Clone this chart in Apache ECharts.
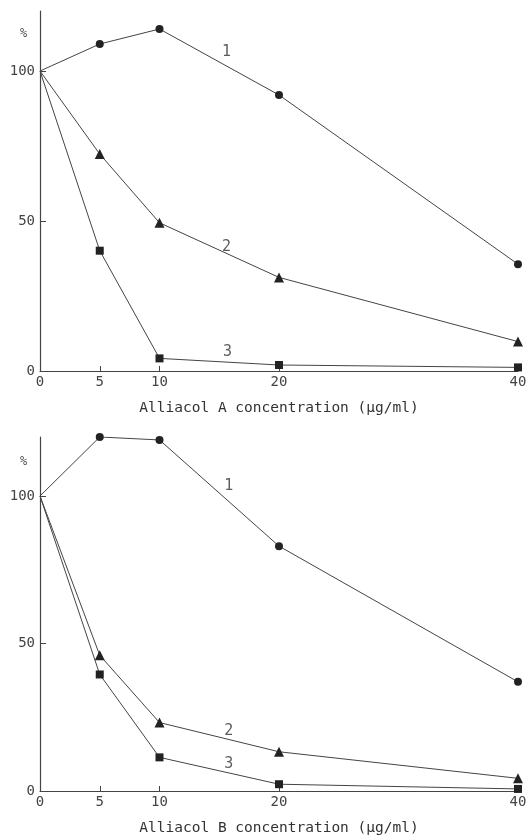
<!DOCTYPE html>
<html>
<head>
<meta charset="utf-8">
<script src="https://cdn.jsdelivr.net/npm/echarts@6/dist/echarts.min.js"></script>
<style>
  html, body { margin: 0; padding: 0; background: #fff; }
  #chart { width: 531px; height: 838px; }
</style>
</head>
<body>
<div id="chart"></div>
<script>
// concentrations (µg/ml)
const conc = [0, 5, 10, 20, 40];
const xTicks = [0, 5, 10, 20, 40];
const yLabels = [0, 50, 100];
const yTicks = [50, 100];

// Alliacol A, % of control
const a1 = [100, 109, 114, 92, 35.6];
const a2 = [100, 72.3, 49.4, 31.2, 9.8];
const a3 = [100, 40.1, 4.2, 2, 1.2];

// Alliacol B, % of control
const b1 = [100, 120, 119, 83, 37];
const b2 = [100, 46, 23.2, 13.3, 4.3];
const b3 = [100, 39.5, 11.4, 2.3, 0.7];

// curve numbers placed beside the lines  [x, y, label]
const aCurveLabels = [[15.6, 106.3, "1"], [15.6, 41.3, "2"], [15.7, 6.3, "3"]];
const bCurveLabels = [[15.8, 103.4, "1"], [15.8, 20.3, "2"], [15.8, 9.2, "3"]];

const xTitles = ["Alliacol A concentration (µg/ml)", "Alliacol B concentration (µg/ml)"];

const ink = "#222";
const lineInk = "#444";
const mono = "DejaVu Sans Mono";

function pairs(vals) {
  return conc.map(function (c, i) { return [c, vals[i]]; });
}

function xAxis(idx) {
  return {
    type: "value",
    gridIndex: idx,
    min: 0,
    max: 40,
    interval: 5,
    name: xTitles[idx],
    nameLocation: "middle",
    nameGap: 30,
    nameTextStyle: { fontFamily: mono, fontSize: 14.5, color: "#333" },
    axisLine: { lineStyle: { color: lineInk, width: 1.2 } },
    axisTick: { inside: true, length: 5, customValues: [5, 10, 20, 40], lineStyle: { color: lineInk } },
    axisLabel: { customValues: xTicks, fontFamily: mono, fontSize: 14, color: "#444", margin: 4 },
    splitLine: { show: false }
  };
}

function yAxis(idx) {
  return {
    type: "value",
    gridIndex: idx,
    min: 0,
    max: 120,
    interval: 10,
    axisLine: { show: true, lineStyle: { color: lineInk, width: 1.2 } },
    axisTick: { show: true, inside: true, length: 6, customValues: yTicks, lineStyle: { color: lineInk } },
    axisLabel: { customValues: yLabels, fontFamily: mono, fontSize: 14, color: "#444", margin: 5 },
    splitLine: { show: false }
  };
}

function curve(idx, vals, symbol, size) {
  return {
    type: "line",
    xAxisIndex: idx,
    yAxisIndex: idx,
    data: pairs(vals),
    symbol: symbol,
    symbolSize: function (v) { return v[0] === 0 ? 0 : size; },
    showAllSymbol: true,
    lineStyle: { color: lineInk, width: 1 },
    itemStyle: { color: ink, borderWidth: 0 },
    animation: false,
    z: 3
  };
}

function numbers(idx, list) {
  return {
    type: "scatter",
    xAxisIndex: idx,
    yAxisIndex: idx,
    data: list,
    symbolSize: 0,
    label: {
      show: true,
      position: "inside",
      formatter: function (p) { return p.data[2]; },
      fontFamily: mono,
      fontSize: 15,
      color: "#333"
    },
    animation: false
  };
}

const chart = echarts.init(document.getElementById("chart"));
chart.setOption({
  backgroundColor: "#fff",
  grid: [
    { left: 40, right: 13, top: 11, bottom: 467 },
    { left: 40, right: 13, top: 437, bottom: 47 }
  ],
  xAxis: [xAxis(0), xAxis(1)],
  yAxis: [yAxis(0), yAxis(1)],
  graphic: [
    { type: "text", left: 20, top: 28, style: { text: "%", font: "12px " + mono, fill: "#555" } },
    { type: "text", left: 20, top: 456, style: { text: "%", font: "12px " + mono, fill: "#555" } }
  ],
  series: [
    curve(0, a1, "circle", 8),
    curve(0, a2, "triangle", 10),
    curve(0, a3, "rect", 8),
    numbers(0, aCurveLabels),
    curve(1, b1, "circle", 8),
    curve(1, b2, "triangle", 10),
    curve(1, b3, "rect", 8),
    numbers(1, bCurveLabels)
  ]
});
</script>
</body>
</html>
